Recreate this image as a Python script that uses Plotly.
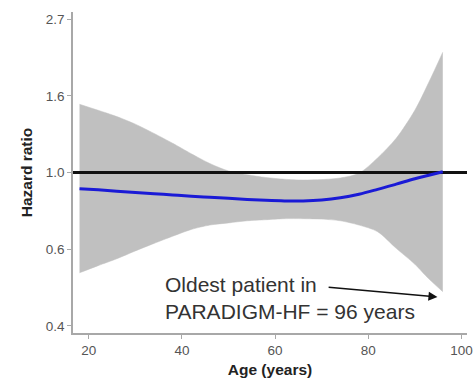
import math
import plotly.graph_objects as go

# Spline estimate of the hazard ratio by age, with its 95% confidence band
age = [18, 22, 26, 30, 34, 38, 42, 46, 50, 54, 58, 62, 66, 70, 74, 78, 82, 86, 90, 93, 96]
hr_upper = [1.56, 1.50, 1.44, 1.37, 1.29, 1.21, 1.13, 1.06, 1.01, 0.985, 0.968, 0.957,
            0.952, 0.955, 0.965, 0.995, 1.10, 1.25, 1.50, 1.80, 2.19]
hr_lower = [0.52, 0.545, 0.57, 0.60, 0.63, 0.66, 0.69, 0.71, 0.72, 0.73, 0.735, 0.74,
            0.74, 0.738, 0.73, 0.71, 0.68, 0.61, 0.55, 0.50, 0.46]
hr_est = [0.90, 0.893, 0.885, 0.878, 0.871, 0.864, 0.857, 0.851, 0.845, 0.839, 0.834, 0.831,
          0.831, 0.836, 0.848, 0.868, 0.896, 0.927, 0.96, 0.982, 1.005]

ref_hr = 1.0
x_range = [16.6, 101.2]
ln_range = [-1.046, 1.046]

# ticks sit at exp(-1), exp(-0.5), 1, exp(0.5), exp(1)
y_tickvals = [math.exp(-1), math.exp(-0.5), 1.0, math.exp(0.5), math.exp(1)]
y_ticktext = ["0.4", "0.6", "1.0", "1.6", "2.7"]
x_tickvals = [20, 40, 60, 80, 100]

band_color = "#c0c0c0"
font_family = "Arial, Liberation Sans, sans-serif"

fig = go.Figure()

# confidence band: lower limit, then upper limit filled down to it
fig.add_trace(go.Scatter(
    x=age, y=hr_lower,
    mode="lines",
    line=dict(color=band_color, width=0.5, shape="spline", smoothing=0.8),
    hoverinfo="skip",
    showlegend=False,
))
fig.add_trace(go.Scatter(
    x=age, y=hr_upper,
    mode="lines",
    fill="tonexty",
    fillcolor=band_color,
    line=dict(color=band_color, width=0.5, shape="spline", smoothing=0.8),
    hoverinfo="skip",
    showlegend=False,
))

# reference line at HR = 1
fig.add_trace(go.Scatter(
    x=x_range,
    y=[ref_hr, ref_hr],
    mode="lines",
    line=dict(color="#111111", width=3),
    showlegend=False,
))

# estimated hazard ratio
fig.add_trace(go.Scatter(
    x=age,
    y=hr_est,
    mode="lines",
    line=dict(color="#1a1ad6", width=3, shape="spline", smoothing=1.0),
    showlegend=False,
))

fig.add_annotation(
    text="Oldest patient in<br>PARADIGM-HF = 96 years",
    xref="x domain", yref="y domain",
    x=0.228, y=0.11,
    xanchor="left", yanchor="middle",
    align="left",
    showarrow=False,
    font=dict(family=font_family, size=21, color="#333333"),
)
fig.add_annotation(
    xref="x domain", yref="y domain",
    x=0.925, y=0.112,
    ax=0.645, ay=0.143,
    axref="x domain", ayref="y domain",
    text="",
    showarrow=True,
    arrowhead=2,
    arrowsize=1.2,
    arrowwidth=1.5,
    arrowcolor="#111111",
)

axis_common = dict(
    automargin=False,
    showgrid=False,
    zeroline=False,
    showline=True,
    linecolor="#a8a8a8",
    linewidth=1.5,
    ticks="outside",
    ticklen=4,
    tickwidth=1,
    tickcolor="#a8a8a8",
    tickfont=dict(family=font_family, size=13.5, color="#555555"),
)

fig.update_layout(
    width=475,
    height=390,
    margin=dict(l=73, r=8, t=12, b=57),
    paper_bgcolor="white",
    plot_bgcolor="white",
    xaxis=dict(
        range=x_range,
        tickvals=x_tickvals,
        title=dict(text="<b>Age (years)</b>", standoff=7,
                   font=dict(family=font_family, size=15.5, color="#222222")),
        **axis_common,
    ),
    yaxis=dict(
        type="log",
        range=[v / math.log(10) for v in ln_range],
        tickvals=y_tickvals,
        ticktext=y_ticktext,
        title=dict(text="<b>Hazard ratio</b>", standoff=9,
                   font=dict(family=font_family, size=15.5, color="#222222")),
        **axis_common,
    ),
)

fig.write_html("out.html")
